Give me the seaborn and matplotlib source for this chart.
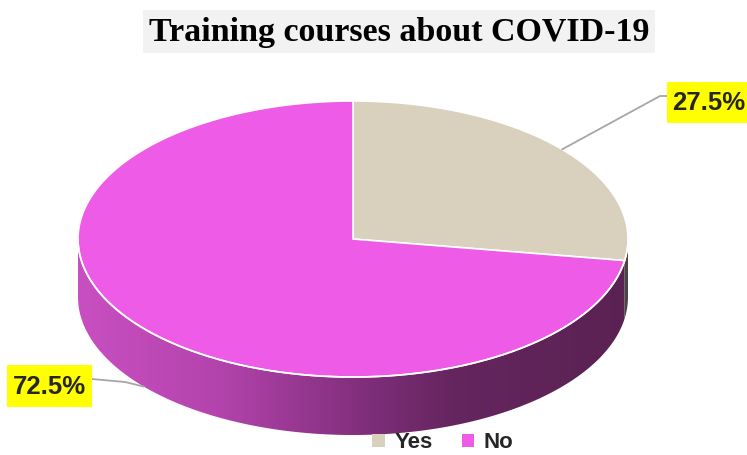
import numpy as np
import matplotlib
matplotlib.use("Agg")
import matplotlib.pyplot as plt
import seaborn as sns
from matplotlib.patches import Polygon, Rectangle, Patch
from matplotlib.colors import LinearSegmentedColormap

# ---- data ----
categories = ["Yes", "No"]
values = [27.5, 72.5]
label_texts = ["27.5%", "72.5%"]
title = "Training courses about COVID-19"

sns.set_theme(style="white")
plt.rcParams['font.family'] = ['Liberation Sans', 'DejaVu Sans']

top_colors = ["#D9D0BE", "#EE5BE6"]

W, H = 747, 455
fig = plt.figure(figsize=(W / 100, H / 100), dpi=100)
ax = fig.add_axes([0, 0, 1, 1])
ax.set_xlim(0, W)
ax.set_ylim(H, 0)
ax.axis("off")

cx, cy, a, b, d = 353, 239, 275, 138, 58


def pt(theta_deg, dy=0.0):
    t = np.radians(theta_deg)
    return cx + a * np.cos(t), cy - b * np.sin(t) + dy


# wedge angles (clockwise from 12 o'clock)
total = sum(values)
starts, ends = [], []
ang = 90.0
for v in values:
    span = 360.0 * v / total
    starts.append(ang)
    ends.append(ang - span)
    ang -= span

# ---- side (front half, theta 180..360) ----
side_cmap = LinearSegmentedColormap.from_list(
    "side", [(0, "#C84FC1"), (0.25, "#B444AD"), (0.5, "#84307F"),
             (0.68, "#65255F"), (1, "#5A2252")])


def side_poly(t0, t1):
    th = np.linspace(t0, t1, 200)
    topx, topy = pt(th)
    botx, boty = pt(th[::-1], d)
    return np.column_stack([np.r_[topx, botx], np.r_[topy, boty]])

yes_end = ends[0] % 360
no_side = side_poly(180, yes_end)
poly = Polygon(no_side, closed=True, facecolor="none", edgecolor="none")
ax.add_patch(poly)
grad = np.linspace(0, 1, 256).reshape(1, -1)
im = ax.imshow(grad, cmap=side_cmap, extent=[cx - a, cx + a, cy + b + d + 5, cy - 5],
               aspect="auto", zorder=1)
im.set_clip_path(poly)

yes_side = Polygon(side_poly(yes_end, 360), closed=True, facecolor="#4B4642",
                   edgecolor="none", zorder=1.5)
ax.add_patch(yes_side)

# ---- top faces ----
for i, v in enumerate(values):
    th = np.linspace(starts[i], ends[i], 300)
    xs, ys = pt(th)
    verts = np.column_stack([np.r_[cx, xs], np.r_[cy, ys]])
    ax.add_patch(Polygon(verts, closed=True, facecolor=top_colors[i],
                         edgecolor="white", linewidth=1.2, zorder=2))

th = np.linspace(180, 360, 300)
xs, ys = pt(th)
ax.plot(xs, ys, color="white", lw=1.2, zorder=3)

# ---- leader lines & labels ----
mid0 = (starts[0] + ends[0]) / 2
x0, y0 = pt(mid0)
ax.plot([x0, 660, 668], [y0, 96, 96], color="#A6A6A6", lw=1.3, zorder=3)
mid1 = (starts[1] + ends[1]) / 2
x1, y1 = pt(mid1, d)
ax.plot([x1, 125, 92], [y1, 382, 379], color="#A6A6A6", lw=1.3, zorder=3)

ax.add_patch(Rectangle((667, 82), 82, 41, facecolor="#FFFF00", edgecolor="none", zorder=4))
ax.text(709, 103, label_texts[0], ha="center", va="center", fontsize=18.5,
        fontweight="bold", color="#262626", zorder=5)
ax.add_patch(Rectangle((7, 365), 85, 42, facecolor="#FFFF00", edgecolor="none", zorder=4))
ax.text(49.5, 386.5, label_texts[1], ha="center", va="center", fontsize=18.5,
        fontweight="bold", color="#262626", zorder=5)

# ---- title ----
ax.add_patch(Rectangle((143, 10), 512, 43, facecolor="#F2F2F2", edgecolor="none", zorder=4))
ax.text(399, 32, title, ha="center", va="center", fontsize=24.5, fontweight="bold",
        family=["Liberation Serif", "DejaVu Serif"], color="black", zorder=5)

# ---- legend ----
handles = [Patch(facecolor=c, edgecolor="none") for c in top_colors]
leg = ax.legend(handles, categories, loc="center", bbox_to_anchor=(443, 443),
                bbox_transform=ax.transData, ncol=2, frameon=False,
                prop={"weight": "bold", "size": 16}, handlelength=0.55,
                handleheight=0.55, handletextpad=0.45, columnspacing=1.3)

fig.savefig("out.png", dpi=100)
